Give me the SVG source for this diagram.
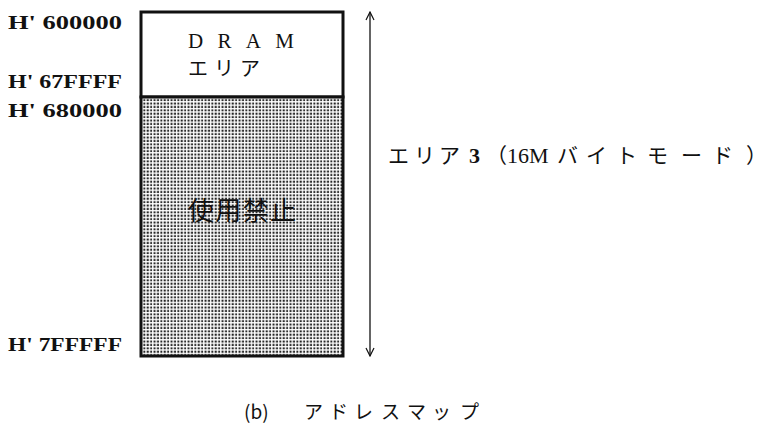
<svg xmlns="http://www.w3.org/2000/svg" width="774" height="428" viewBox="0 0 774 428">
<style>
.hex{font-family:"Liberation Serif","DejaVu Serif",serif;font-size:18px;font-weight:bold;fill:#111}
.jp{font-family:"Noto Sans CJK JP","Noto Sans",sans-serif;fill:#111}
.lat{font-family:"Liberation Serif","Noto Sans CJK JP",serif;fill:#111}
</style>
<defs>
<pattern id="dots" width="3.4" height="3.4" patternUnits="userSpaceOnUse">
<rect width="3.4" height="3.4" fill="#fff"/>
<rect x="0.5" y="0.5" width="2" height="2" fill="#222"/>
</pattern>
<marker id="ah" viewBox="0 0 10 10" refX="9" refY="5" markerWidth="10" markerHeight="10" markerUnits="userSpaceOnUse" orient="auto-start-reverse">
<path d="M1,1 L9,5 L1,9" fill="none" stroke="#111" stroke-width="1.2"/>
</marker>
</defs>
<rect width="774" height="428" fill="#fff"/>
<g id="labels">
<text class="hex" x="8" y="29" textLength="114" lengthAdjust="spacingAndGlyphs">H' 600000</text>
<text class="hex" x="8" y="88" textLength="114" lengthAdjust="spacingAndGlyphs">H' 67FFFF</text>
<text class="hex" x="8" y="117" textLength="114" lengthAdjust="spacingAndGlyphs">H' 680000</text>
<text class="hex" x="8" y="351" textLength="114" lengthAdjust="spacingAndGlyphs">H' 7FFFFF</text>
</g>
<g id="dram">
<rect x="141" y="12" width="202" height="85" fill="#fff" stroke="#111" stroke-width="3"/>
<text class="lat" x="188" y="48" font-size="21" textLength="106" lengthAdjust="spacing">DRAM</text>
<text class="jp" x="188" y="76" font-size="20" textLength="72" lengthAdjust="spacing">エリア</text>
</g>
<g id="forbidden">
<rect x="141" y="97" width="202" height="259" fill="url(#dots)" stroke="#111" stroke-width="3"/>
<text class="jp" x="242" y="220" font-size="26" text-anchor="middle" textLength="108" lengthAdjust="spacing">使用禁止</text>
</g>
<g id="connectors">
<line x1="370" y1="12" x2="370" y2="356" stroke="#111" stroke-width="1.3" marker-start="url(#ah)" marker-end="url(#ah)"/>
</g>
<g id="area3">
<text class="jp" y="163" font-size="21"><tspan x="388">エ</tspan><tspan x="414">リ</tspan><tspan x="439">ア</tspan><tspan x="469" class="lat" font-size="22" font-weight="bold">3</tspan><tspan x="486">（</tspan><tspan x="507" class="lat" font-size="22">16M</tspan><tspan x="557">バ</tspan><tspan x="586">イ</tspan><tspan x="616">ト</tspan><tspan x="647">モ</tspan><tspan x="681">ー</tspan><tspan x="712">ド</tspan><tspan x="746">）</tspan></text>
</g>
<g id="caption">
<text class="jp" x="244" y="419" font-size="19">(b)</text>
<text class="jp" y="419" font-size="19"><tspan x="304">ア</tspan><tspan x="329">ド</tspan><tspan x="354">レ</tspan><tspan x="381">ス</tspan><tspan x="407">マ</tspan><tspan x="432">ッ</tspan><tspan x="460">プ</tspan></text>
</g>
</svg>
